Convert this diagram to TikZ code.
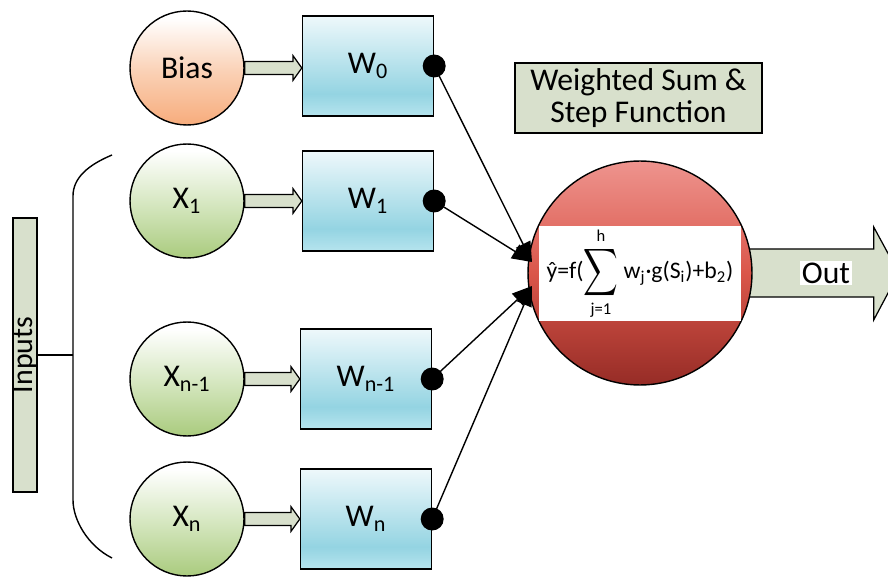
\documentclass[tikz,border=0pt]{standalone}
\usepackage{fontspec}
\setmainfont{Carlito}
\usepackage{amsmath}
\usepackage{graphicx}
\usetikzlibrary{arrows.meta,calc,backgrounds}
\definecolor{pale}{RGB}{216,224,204}
\definecolor{boxtop}{RGB}{238,248,251}
\definecolor{boxmid}{RGB}{148,212,226}
\definecolor{boxlow}{RGB}{182,228,238}
\definecolor{biaslow}{RGB}{247,172,124}
\definecolor{biasmid}{RGB}{250,208,180}
\definecolor{inlow}{RGB}{170,203,126}
\definecolor{inmid}{RGB}{212,230,190}
\definecolor{redlow}{RGB}{150,44,38}
\definecolor{redmid}{RGB}{218,86,74}
\definecolor{redtop}{RGB}{238,148,142}
\pgfdeclareverticalshading{wshade}{100bp}{color(0bp)=(boxlow); color(25bp)=(boxlow);
  color(36bp)=(boxmid); color(75bp)=(boxtop); color(100bp)=(boxtop)}
\pgfdeclareverticalshading{biasball}{100bp}{color(0bp)=(biaslow); color(25bp)=(biaslow);
  color(48bp)=(biasmid); color(72bp)=(white); color(100bp)=(white)}
\pgfdeclareverticalshading{inball}{100bp}{color(0bp)=(inlow); color(25bp)=(inlow);
  color(48bp)=(inmid); color(72bp)=(white); color(100bp)=(white)}
\pgfdeclareverticalshading{redball}{100bp}{color(0bp)=(redlow); color(25bp)=(redlow);
  color(50bp)=(redmid); color(75bp)=(redtop); color(100bp)=(redtop)}
\newcommand\labelfont{\fontsize{18}{18}\selectfont}
\tikzset{
  incirc/.style={circle, draw, line width=0.8pt, minimum size=2.28cm, inner sep=0pt,
                 shade, shading=inball, font=\labelfont},
  wbox/.style={draw, line width=0.8pt, minimum width=2.62cm, minimum height=2.0cm,
               inner sep=0pt, shade, shading=wshade, font=\labelfont},
  dot/.style={circle, fill=black, minimum size=0.46cm, inner sep=0pt},
  fat/.style={fill=pale, draw, line width=0.7pt, line join=miter},
  wire/.style={line width=0.8pt, -{Triangle[length=4mm,width=3.2mm]}},
}
% block arrow between a circle and its weight box
\newcommand\fatarrow[2]{%
  \path[fat] let \p1=(#1), \p2=(#2) in
    (\x1,\y1+3.7pt) -- (\x2-5pt,\y1+3.7pt) -- (\x2-5pt,\y1+7pt) -- (\x2,\y1)
    -- (\x2-5pt,\y1-7pt) -- (\x2-5pt,\y1-3.7pt) -- (\x1,\y1-3.7pt) -- cycle;}

\begin{document}
\begin{tikzpicture}[x=0.02cm, y=-0.02cm]
  \useasboundingbox (0,0) rectangle (888,577);
  % inputs and weights
  \node[incirc, shading=biasball] (bias) at (187,68)  {Bias};
  \node[incirc] (x1)  at (187,201) {X\textsubscript{1}};
  \node[incirc] (xn1) at (187,379) {X\textsubscript{n-1}};
  \node[incirc] (xn)  at (187,519) {X\textsubscript{n}};
  \node[wbox] (w0)  at (368,66)  {W\textsubscript{0}};
  \node[wbox] (w1)  at (368,201) {W\textsubscript{1}};
  \node[wbox] (wn1) at (366,379) {W\textsubscript{n-1}};
  \node[wbox] (wn)  at (366,519) {W\textsubscript{n}};
  \fatarrow{bias.east}{w0.west}
  \fatarrow{x1.east}{w1.west}
  \fatarrow{xn1.east}{wn1.west}
  \fatarrow{xn.east}{wn.west}
  \foreach \w/\d in {w0/d0, w1/d1, wn1/dn1, wn/dn}
    \node[dot] (\d) at (\w.east) {};

  % summing neuron
  \node[circle, draw, line width=0.8pt, minimum size=4.48cm, inner sep=0pt,
        shade, shading=redball] (sum) at (640,273) {};
  \node[fill=white, minimum width=4.06cm, minimum height=1.9cm, inner sep=0pt,
        font=\fontsize{13.5}{16}\selectfont] (formula) at (640,273.5)
    {\^y=f($\displaystyle\mathop{\vcenter{\hbox{\scalebox{0.95}[1.3]{$\displaystyle\sum$}}}}\limits_{\text{j=1}}^{\text{h}}$ w\textsubscript{j}·g(S\textsubscript{i})+b\textsubscript{2})};
  \node[fill=pale, draw, line width=0.8pt, minimum width=4.94cm, minimum height=1.4cm,
        inner sep=0pt, align=center, font=\labelfont] (title) at (638.5,98)
    {Weighted Sum \&\\Step Function};
  \coordinate (tipa) at (532,262);
  \coordinate (tipb) at (532,286);
  \draw[wire] (d0.center) -- (tipa);
  \draw[wire] (d1.center) -- (tipa);
  \draw[wire] (dn1.center) -- (tipb);
  \draw[wire] (dn.center) -- (tipb);

  % output
  \begin{scope}[on background layer]
    \draw[fat] (sum.east) ++(-4,-24) -- ++(125,0) -- ++(0,-22) -- ++(25,46)
      -- ++(-25,47) -- ++(0,-23) -- ++(-125,0) -- cycle;
  \end{scope}
  \node[fill=white, inner sep=1pt, font=\labelfont] (out) at (826,273) {Out};

  % inputs brace
  \node[fill=pale, draw, line width=0.7pt, rotate=90, minimum width=5.48cm,
        minimum height=0.48cm, inner sep=0pt, font=\fontsize{17}{17}\selectfont]
    (inputs) at (25,355) {Inputs};
  \coordinate (brtop) at (112,155);
  \coordinate (brmid) at (73,355);
  \coordinate (brbot) at (112,558);
  \draw[line width=0.8pt] (brtop) .. controls (88,165) and (73,178) .. (73,196)
    -- (73,500) .. controls (73,520) and (88,546) .. (brbot);
  \draw[line width=0.8pt] (inputs.south) -- (brmid);
\end{tikzpicture}
\end{document}
